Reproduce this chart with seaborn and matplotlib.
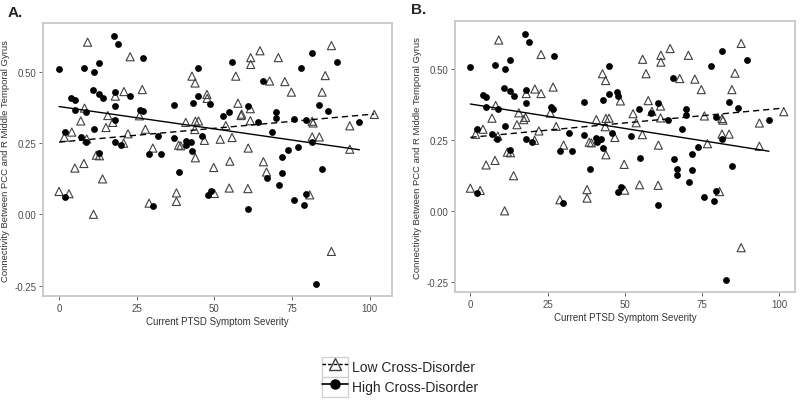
import numpy as np
import pandas as pd
import matplotlib
matplotlib.use("Agg")
import matplotlib.pyplot as plt
from matplotlib.lines import Line2D
from matplotlib.patches import Rectangle
from matplotlib.legend_handler import HandlerTuple
import seaborn as sns

# PTSD severity (x) and PCC - R MTG connectivity (y); same subjects in both panels
severity = [
    0.0, 17.8, 18.9, 12.9, 8.1, 11.1, 27.0, 4.0, 5.1, 11.0, 12.9, 14.1, 17.9, 18.0,
    26.0, 26.9, 5.1, 8.8, 2.0, 11.1, 7.0, 8.7, 17.9, 20.0, 12.9, 29.0, 32.9, 31.9,
    36.9, 36.9, 38.7, 40.8, 41.0, 42.4, 42.8, 2.0, 30.1,
    9.2, 22.9, 26.8, 20.9, 22.9, 18.1, 8.2, 15.7, 17.9, 17.3, 7.0, 25.9, 15.1, 4.1,
    1.7, 22.2, 27.8, 20.8, 12.0, 13.0, 8.0, 5.1, 14.0, 30.2, 38.5, 39.2, 40.8, 0.0,
    3.2, 11.1, 29.0, 37.8, 37.8, 8.9,
    42.8, 43.8, 43.9, 44.9, 43.7, 43.9, 46.8, 48.6, 49.8, 52.7, 53.7, 55.8, 56.9,
    57.6, 55.7, 50.0, 54.8, 61.6, 58.8, 61.6, 75.8, 81.5, 81.8, 101.5, 93.6, 60.9,
    76.8, 81.5, 83.8, 93.6, 60.8, 80.7, 87.7, 87.7, 64.7, 61.7, 61.7, 70.6, 67.8,
    72.7, 85.7, 74.8, 84.7,
    81.5, 89.6, 44.9, 77.8, 65.7, 44.9, 47.6, 47.7, 43.0, 83.7, 86.7, 54.6, 60.8,
    58.6, 69.8, 69.8, 63.9, 79.6, 96.7, 68.7, 46.0, 51.9, 81.6, 73.7, 71.7, 55.0,
    65.8, 66.8, 66.8, 71.7, 70.7, 84.7, 47.8, 48.9, 60.8, 75.8, 78.8, 79.6, 82.7,
]
connectivity = [
    0.508, 0.624, 0.597, 0.531, 0.514, 0.500, 0.546, 0.408, 0.402, 0.435, 0.422,
    0.406, 0.428, 0.380, 0.367, 0.361, 0.365, 0.360, 0.290, 0.298, 0.271, 0.252,
    0.252, 0.244, 0.216, 0.210, 0.212, 0.274, 0.383, 0.267, 0.147, 0.256, 0.242,
    0.254, 0.223, 0.062, 0.028,
    0.603, 0.552, 0.437, 0.430, 0.414, 0.414, 0.372, 0.346, 0.330, 0.322, 0.327,
    0.345, 0.304, 0.288, 0.270, 0.282, 0.298, 0.249, 0.207, 0.205, 0.178, 0.162,
    0.124, 0.232, 0.242, 0.240, 0.322, 0.080, 0.072, 0.000, 0.039, 0.075, 0.045,
    0.264,
    0.484, 0.460, 0.326, 0.327, 0.297, 0.198, 0.259, 0.388, 0.164, 0.343, 0.311,
    0.535, 0.484, 0.389, 0.269, 0.073, 0.092, 0.370, 0.351, 0.328, 0.335, 0.326,
    0.320, 0.350, 0.310, 0.232, 0.237, 0.271, 0.271, 0.228, 0.090, 0.068, -0.130,
    0.591, 0.573, 0.549, 0.525, 0.549, 0.467, 0.465, 0.486, 0.428, 0.428,
    0.565, 0.532, 0.511, 0.511, 0.468, 0.413, 0.420, 0.406, 0.390, 0.384, 0.362,
    0.360, 0.379, 0.346, 0.360, 0.337, 0.322, 0.332, 0.322, 0.290, 0.275, 0.263,
    0.253, 0.227, 0.201, 0.186, 0.184, 0.148, 0.126, 0.145, 0.101, 0.160, 0.066,
    0.083, 0.019, 0.049, 0.033, 0.070, -0.244,
]
# group membership per point (L = low cross-disorder, H = high cross-disorder)
group_a = list(
    "HHHHHHHHHH" "HHHHHHHHHH" "HHHHHHHHHH" "HHHHHHH"                # 37
    "LLLLHLLLHL" "LLLLLLLLLL" "LLLLLLLLLL" "LLLL"                   # 34
    "LLLLLLLHLH" "LHLLLLLLLL" "HLLLLLHLLL" "LLLLLLLLLL" "LLL"       # 43
    "HHHHHHLLHH" "HHHLHHHHHH" "HLHHHLLLHH" "HHHHHHHHH"              # 39
)
group_b = list(
    "HHHHHHHHHH" "HHHHHHHHHH" "HHHHHHHHHH" "HHHHHHH"
    "LLLLLLLLLL" "LLLLLLLLLL" "LLLLLLLLLL" "LLLL"
    "LLLLLLLLLL" "LLLLLLLLLL" "LLLLLLLLLL" "LLLLLLLLLL" "LLL"
    "HHHHHHHHHH" "HHHHHHHHHH" "HHHHHHHHHH" "HHHHHHHHH"
)
group_names = {"L": "Low Cross-Disorder", "H": "High Cross-Disorder"}

panels = [("A.", group_a, (-5.1, 107.2)), ("B.", group_b, (-4.9, 105.2))]

sns.set_theme(style="white")
plt.rcParams["font.family"] = ["Liberation Sans", "DejaVu Sans"]

fig = plt.figure(figsize=(8.0, 4.06), dpi=100)
ax_a = fig.add_axes([0.054, 0.268, 0.436, 0.672])
ax_b = fig.add_axes([0.569, 0.278, 0.425, 0.667])

styles = {
    "L": dict(marker="^", scatter_kws=dict(s=34, facecolors="none", color="#404040",
                                          linewidths=0.8, alpha=1, zorder=2),
              line_kws=dict(color="black", lw=1.0, linestyle=(0, (4.5, 2.8)), zorder=4)),
    "H": dict(marker="o", scatter_kws=dict(s=24, color="black", linewidths=0,
                                          alpha=1, zorder=3),
              line_kws=dict(color="black", lw=1.0, zorder=4)),
}

for ax, (title, groups, xlim) in zip([ax_a, ax_b], panels):
    df = pd.DataFrame({"severity": severity, "connectivity": connectivity,
                       "group": groups})
    for g in ["L", "H"]:
        sub = df[df["group"] == g]
        sns.regplot(data=sub, x="severity", y="connectivity", ci=None, ax=ax,
                    marker=styles[g]["marker"],
                    scatter_kws=dict(styles[g]["scatter_kws"]),
                    line_kws=dict(styles[g]["line_kws"]))
    ax.set_xlim(*xlim)
    ax.set_ylim(-0.287, 0.669)
    ax.set_xticks([0, 25, 50, 75, 100])
    ax.set_yticks([-0.25, 0.0, 0.25, 0.50])
    ax.set_yticklabels(["-0.25", "0.00", "0.25", "0.50"])
    ax.tick_params(axis="both", labelsize=7, colors="#4d4d4d", length=3, width=0.6,
                   pad=2, left=True, bottom=True)
    ax.set_xlabel("Current PTSD Symptom Severity", fontsize=7, color="#333333",
                  labelpad=2)
    ax.set_ylabel("Connectivity Between PCC and R Middle Temporal Gyrus",
                  fontsize=6.8, color="#333333", labelpad=3)
    for sp in ax.spines.values():
        sp.set_color("#c8c8c8")
        sp.set_linewidth(1.3)
    ax.set_facecolor("white")

fig.text(0.009, 0.968, "A.", fontsize=11, fontweight="bold", va="center")
fig.text(0.514, 0.975, "B.", fontsize=11, fontweight="bold", va="center")

# legend keys drawn as boxed keys like the original
key_box = lambda: Rectangle((0, 0), 1, 1, facecolor="white", edgecolor="#cfcfcf",
                            linewidth=0.9)
handles = [
    (key_box(), Line2D([], [], color="black", lw=1.0, linestyle=(0, (2.5, 1.5)),
                       marker="^", markerfacecolor="none",
                       markeredgecolor="#404040", markersize=8)),
    (key_box(), Line2D([], [], color="black", lw=1.2, marker="o", markersize=6.5)),
]
fig.legend(handles, [group_names["L"], group_names["H"]], loc="center",
           bbox_to_anchor=(0.50, 0.069), frameon=False, fontsize=10,
           handler_map={tuple: HandlerTuple(ndivide=1, pad=0)},
           handlelength=1.85, handleheight=1.85, handletextpad=0.3,
           labelspacing=0.0, borderaxespad=0)

fig.savefig("out.png", dpi=100, facecolor="white")
